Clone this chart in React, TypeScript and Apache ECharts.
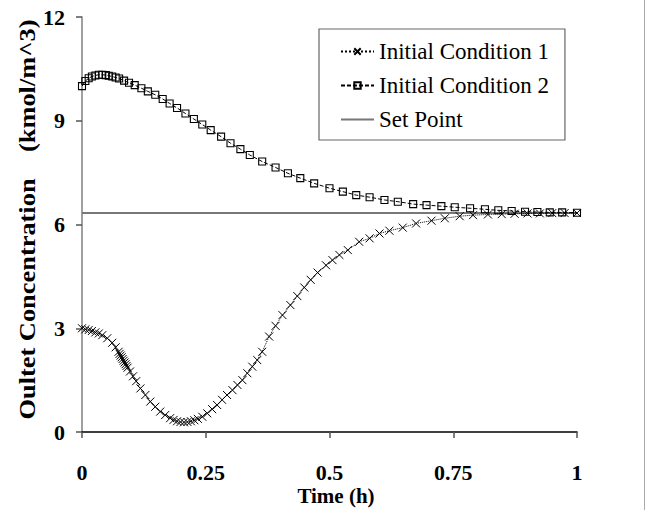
import React, { useEffect, useRef } from "react";
import * as echarts from "echarts";

// Initial Condition 1 (crosses, dotted)
const timeIC1 = [
  0, 0.0068, 0.0135, 0.02, 0.027, 0.034, 0.041, 0.051, 0.061, 0.068, 0.074,
  0.076, 0.078, 0.08, 0.082, 0.084, 0.086, 0.088, 0.09, 0.092,
  0.097, 0.103, 0.1095, 0.118, 0.128, 0.138, 0.148, 0.158, 0.168, 0.178,
  0.185, 0.192, 0.199, 0.206, 0.213, 0.22, 0.227, 0.234, 0.243, 0.253, 0.263,
  0.273, 0.283, 0.293, 0.304, 0.314, 0.324, 0.334, 0.344, 0.354, 0.364, 0.378,
  0.391, 0.405, 0.421, 0.435, 0.449, 0.462, 0.476, 0.493, 0.506, 0.52, 0.537,
  0.56, 0.581, 0.601, 0.621, 0.648, 0.675, 0.706, 0.733, 0.763, 0.79, 0.82,
  0.848, 0.874, 0.9, 0.925, 0.95, 0.975, 1.0,
];
const concIC1 = [
  3.0, 2.97, 2.95, 2.92, 2.88, 2.85, 2.8, 2.71, 2.58, 2.45, 2.32,
  2.26, 2.21, 2.16, 2.11, 2.06, 2.01, 1.96, 1.91, 1.86,
  1.75, 1.61, 1.47, 1.26, 1.07, 0.88, 0.73, 0.59, 0.49, 0.4,
  0.35, 0.31, 0.29, 0.28, 0.29, 0.31, 0.34, 0.38, 0.44, 0.54, 0.66,
  0.78, 0.93, 1.07, 1.21, 1.36, 1.5, 1.7, 1.89, 2.08, 2.32, 2.76,
  3.07, 3.38, 3.67, 3.93, 4.18, 4.4, 4.61, 4.82, 4.97, 5.12, 5.26,
  5.5, 5.6, 5.74, 5.82, 5.91, 6.03, 6.11, 6.18, 6.24, 6.27, 6.29,
  6.3, 6.31, 6.32, 6.32, 6.33, 6.33, 6.33,
];

// Initial Condition 2 (squares, dashed)
const timeIC2 = [
  0, 0.0068, 0.0135, 0.02, 0.027, 0.034, 0.041, 0.048, 0.054, 0.061, 0.068,
  0.075, 0.085, 0.095, 0.1065, 0.12, 0.133, 0.148, 0.163, 0.177, 0.192, 0.209,
  0.226, 0.243, 0.26, 0.281, 0.3, 0.32, 0.339, 0.364, 0.391, 0.416, 0.441,
  0.469, 0.5, 0.527, 0.554, 0.581, 0.611, 0.638, 0.669, 0.696, 0.726, 0.753,
  0.784, 0.814, 0.841, 0.868, 0.895, 0.92, 0.945, 0.97, 1.0,
];
const concIC2 = [
  10.0, 10.15, 10.23, 10.28, 10.31, 10.33, 10.33, 10.32, 10.3, 10.28, 10.25,
  10.22, 10.16, 10.1, 10.03, 9.94, 9.85, 9.75, 9.63, 9.5, 9.37, 9.21,
  9.05, 8.89, 8.73, 8.54, 8.35, 8.18, 8.01, 7.82, 7.65, 7.48, 7.34,
  7.19, 7.05, 6.95, 6.85, 6.79, 6.71, 6.66, 6.59, 6.56, 6.53, 6.5,
  6.47, 6.44, 6.41, 6.39, 6.37, 6.36, 6.35, 6.35, 6.34,
];

// Set point
const timeSP = [0, 1];
const concSP = [6.33, 6.33];

const xTicks = { min: 0, max: 1, interval: 0.25 };
const yTicks = { min: 0, max: 12, interval: 3 };

const SERIF = '"Liberation Serif", "Times New Roman", serif';

const zip = (t: number[], v: number[]) => t.map((x, i) => [x, v[i]]);

export default function App() {
  const ref = useRef<HTMLDivElement>(null);
  useEffect(() => {
    if (!ref.current) return;
    const chart = echarts.init(ref.current, null, { renderer: "svg" });
    chart.setOption({
      animation: false,
      backgroundColor: "#fff",
      grid: { left: 82, right: 74, top: 17, bottom: 78, containLabel: false },
      xAxis: {
        type: "value",
        min: xTicks.min,
        max: xTicks.max,
        interval: xTicks.interval,
        splitLine: { show: false },
        axisLine: { onZero: false, lineStyle: { color: "#000", width: 1.5 } },
        axisTick: { show: true, inside: false, length: 6, lineStyle: { color: "#555", width: 1.5 } },
        axisLabel: {
          margin: 29,
          color: "#000",
          fontFamily: SERIF,
          fontWeight: "bold",
          fontSize: 22,
        },
      },
      yAxis: {
        type: "value",
        min: yTicks.min,
        max: yTicks.max,
        interval: yTicks.interval,
        splitLine: { show: false },
        axisLine: { show: true, onZero: false, lineStyle: { color: "#808080", width: 1.5 } },
        axisTick: { show: true, inside: false, length: 6, lineStyle: { color: "#555", width: 1.5 } },
        axisLabel: {
          margin: 17,
          color: "#000",
          fontFamily: SERIF,
          fontWeight: "bold",
          fontSize: 22,
        },
      },
      legend: {
        orient: "vertical",
        left: 319,
        top: 29,
        padding: [11, 16, 9, 21],
        itemGap: 11,
        itemWidth: 33,
        itemHeight: 8,
        borderColor: "#666",
        borderWidth: 1.2,
        backgroundColor: "#fff",
        textStyle: { fontFamily: SERIF, fontSize: 23, color: "#000" },
        data: [
          "Initial Condition 1",
          "Initial Condition 2",
          { name: "Set Point", itemStyle: { opacity: 0 } },
        ],
      },
      series: [
        {
          name: "Set Point",
          type: "line",
          data: zip(timeSP, concSP),
          symbol: "none",
          lineStyle: { color: "#777", width: 2, type: "solid" },
          itemStyle: { color: "#777" },
          z: 1,
        },
        {
          name: "Initial Condition 1",
          type: "line",
          data: zip(timeIC1, concIC1),
          symbol: "path://M0,0L10,10M10,0L0,10",
          symbolSize: 8,
          lineStyle: { color: "#000", width: 1, type: "dotted" },
          itemStyle: { color: "none", borderColor: "#000", borderWidth: 1 },
          z: 3,
        },
        {
          name: "Initial Condition 2",
          type: "line",
          data: zip(timeIC2, concIC2),
          symbol: "rect",
          symbolSize: 7,
          lineStyle: { color: "#000", width: 1, type: [4, 2] },
          itemStyle: { color: "none", borderColor: "#000", borderWidth: 1.1 },
          z: 2,
        },
      ],
      graphic: [
        {
          type: "text",
          x: 27,
          y: 219.5,
          rotation: Math.PI / 2,
          scaleX: 1.1,
          style: {
            text: "Oultet Concentration    (kmol/m^3)",
            font: 'bold 24px "Liberation Serif", serif',
            fill: "#000",
            align: "center",
            verticalAlign: "middle",
          },
        },
        {
          type: "text",
          x: 336,
          y: 496,
          style: {
            text: "Time (h)",
            font: 'bold 21px "Liberation Serif", serif',
            fill: "#000",
            align: "center",
            verticalAlign: "middle",
          },
        },
        {
          type: "line",
          shape: { x1: 644.5, y1: 0, x2: 644.5, y2: 510 },
          style: { stroke: "#aaa", lineWidth: 1 },
        },
      ],
    });
    return () => chart.dispose();
  }, []);
  return (
    <div
      ref={ref}
      style={{ position: "fixed", left: 0, top: 0, width: 651, height: 510 }}
    />
  );
}
